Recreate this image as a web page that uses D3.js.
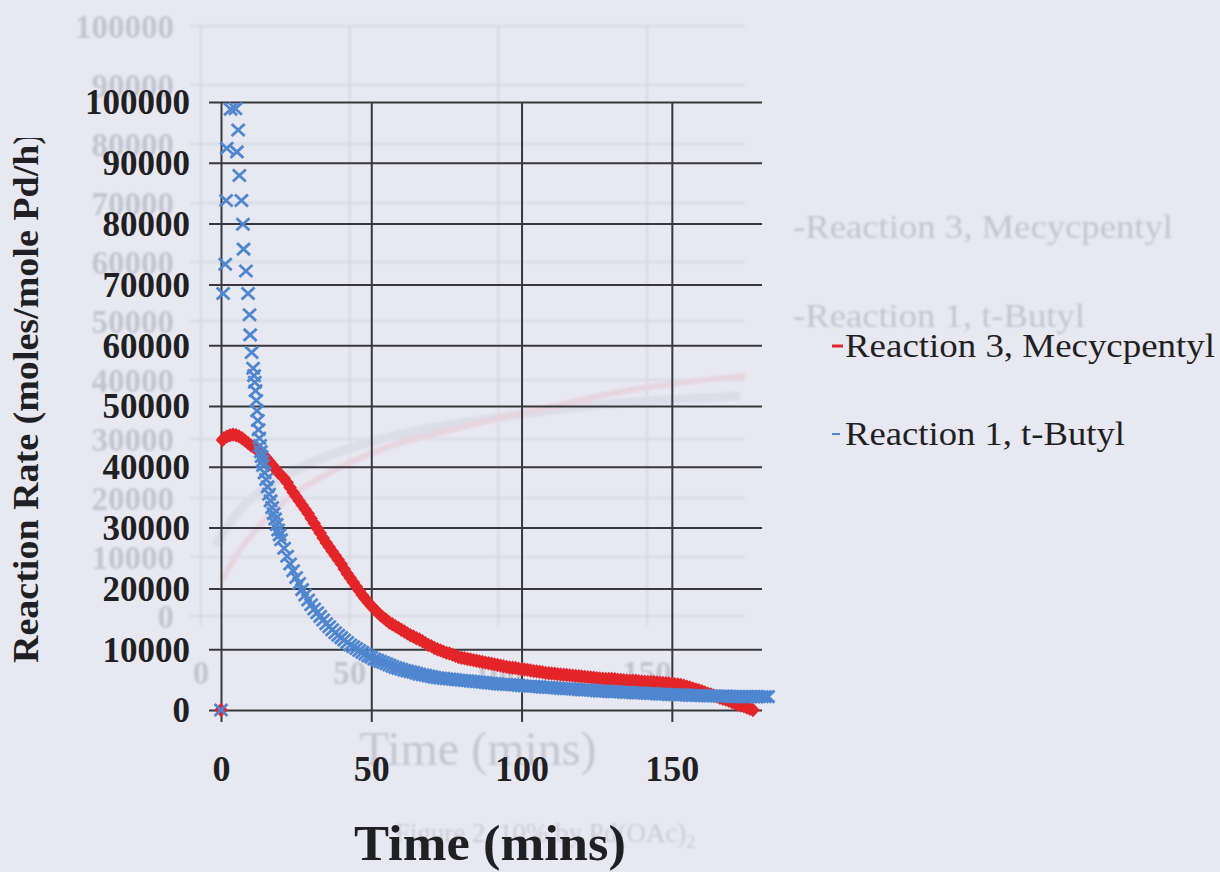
<!DOCTYPE html>
<html>
<head>
<meta charset="utf-8">
<script src="https://cdn.jsdelivr.net/npm/d3@7"></script>
<style>
  html, body { margin: 0; padding: 0; background: #e8e8f2; }
  svg { display: block; }
</style>
</head>
<body>
<svg id="chart" width="1220" height="872"></svg>
<script>
// ---- tick values ----
const xTicks = [0, 50, 100, 150];
const yTicks = [0, 10000, 20000, 30000, 40000, 50000, 60000, 70000, 80000, 90000, 100000];

// ---- series: Reaction 3, Mecycpentyl (time in mins, rate in moles/mole Pd/h) ----
const redTime = [0, 0.5, 1, 2, 3, 4, 5, 6, 7, 8, 9, 10, 11, 12, 13, 14, 15, 16, 17, 18, 19,
  20, 21, 22, 23, 24, 25, 26, 27, 28, 29, 30, 31, 32, 33, 34, 35, 36, 37, 38, 39,
  40, 41, 42, 43, 44, 45, 46, 47, 48, 49, 50, 51, 52, 53, 54, 55, 56, 57, 58, 59,
  60, 61, 62, 63, 64, 65, 66, 67, 68, 69, 70, 71, 72, 73, 74, 75, 76, 77, 78, 79,
  80, 81, 82, 83, 84, 85, 86, 87, 88, 89, 90, 91, 92, 93, 94, 95, 96, 97, 98, 99,
  100, 101, 102, 103, 104, 105, 106, 107, 108, 109, 110, 111, 112, 113, 114, 115, 116, 117, 118, 119,
  120, 121, 122, 123, 124, 125, 126, 127, 128, 129, 130, 131, 132, 133, 134, 135, 136, 137, 138, 139,
  140, 141, 142, 143, 144, 145, 146, 147, 148, 149, 150, 151, 152, 153, 154, 155, 156, 157, 158, 159,
  160, 161, 162, 163, 164, 165, 166, 167, 168, 169, 170, 171, 172, 173, 174, 175, 176, 177];
const redRate = [0, 44400, 44700, 45000, 45200, 45300, 45200, 45000, 44700, 44300, 43900, 43500, 43200, 42800, 42400, 42000, 41500, 40900, 40300, 39700, 39100,
  38600, 38100, 37400, 36600, 35800, 35100, 34400, 33700, 33000, 32300, 31500, 30700, 29900, 29100, 28300, 27500, 26800, 26100, 25400, 24700,
  24000, 23200, 22400, 21700, 21000, 20300, 19600, 18900, 18300, 17700, 17100, 16600, 16100, 15600, 15200, 14800, 14400, 14100, 13800, 13500,
  13200, 12900, 12600, 12300, 12100, 11800, 11600, 11300, 11000, 10700, 10500, 10200, 10000, 9800, 9600, 9400, 9300, 9100, 8900, 8700,
  8600, 8500, 8400, 8300, 8200, 8100, 8000, 7900, 7800, 7700, 7600, 7500, 7400, 7300, 7200, 7100, 7000, 6950, 6900, 6800,
  6700, 6650, 6600, 6500, 6400, 6350, 6300, 6200, 6100, 6050, 6000, 5950, 5900, 5850, 5800, 5750, 5700, 5650, 5600, 5550,
  5500, 5450, 5400, 5350, 5300, 5250, 5200, 5150, 5100, 5100, 5100, 5050, 5000, 4950, 4900, 4850, 4800, 4800, 4800, 4750,
  4700, 4650, 4600, 4600, 4600, 4550, 4500, 4450, 4400, 4350, 4300, 4250, 4200, 4100, 4000, 3850, 3700, 3550, 3400, 3250,
  3100, 2900, 2700, 2550, 2400, 2200, 2000, 1850, 1700, 1500, 1300, 1100, 900, 750, 600, 400, 200, 0];

// ---- series: Reaction 1, t-Butyl ----
const blueTime = [0, 0.7, 1.4, 1.7, 1.9, 3.2, 4.8, 5.3, 5.7, 6.1, 6.8, 7.3, 7.5, 8.3, 9.0, 9.5, 9.7, 10.2, 10.7,
  11, 11.25, 11.5, 11.75, 12, 12.25, 12.5, 12.75, 13, 13.25, 13.5, 13.75, 14, 14.5, 15, 15.5, 16, 16.5, 17, 17.5, 18, 18.5, 19, 19.5,
  20, 21, 22, 23, 24, 25, 26, 27, 28, 29, 30, 31, 32, 33, 34, 35, 36, 37, 38, 39,
  40, 41, 42, 43, 44, 45, 46, 47, 48, 49, 50, 51, 52, 53, 54, 55, 56, 57, 58, 59,
  60, 61, 62, 63, 64, 65, 66, 67, 68, 69, 70, 71, 72, 73, 74, 75, 76, 77, 78, 79,
  80, 81, 82, 83, 84, 85, 86, 87, 88, 89, 90, 91, 92, 93, 94, 95, 96, 97, 98, 99,
  100, 101, 102, 103, 104, 105, 106, 107, 108, 109, 110, 111, 112, 113, 114, 115, 116, 117, 118, 119,
  120, 121, 122, 123, 124, 125, 126, 127, 128, 129, 130, 131, 132, 133, 134, 135, 136, 137, 138, 139,
  140, 141, 142, 143, 144, 145, 146, 147, 148, 149, 150, 151, 152, 153, 154, 155, 156, 157, 158, 159,
  160, 161, 162, 163, 164, 165, 166, 167, 168, 169, 170, 171, 172, 173, 174, 175, 176, 177, 178, 179,
  180, 181, 182];
const blueRate = [0, 68500, 73300, 83800, 92400, 98800, 98900, 91800, 95400, 87900, 83800, 79900, 75800, 72200, 68500, 65000, 61700, 58800, 56200,
  55000, 53900, 52500, 50900, 49200, 47600, 46100, 44700, 43500, 42500, 41700, 40900, 40200, 39000, 37900, 36700, 35500, 34400, 33300, 32300, 31400, 30500, 29600, 28800,
  28000, 26600, 25300, 24000, 22900, 21800, 20800, 19800, 18900, 18100, 17300, 16600, 16000, 15400, 14800, 14200, 13700, 13200, 12700, 12300,
  11900, 11500, 11100, 10700, 10400, 10100, 9800, 9500, 9200, 8900, 8700, 8400, 8200, 8000, 7800, 7600, 7400, 7200, 7000, 6850,
  6700, 6550, 6400, 6300, 6200, 6050, 5900, 5800, 5700, 5600, 5500, 5400, 5300, 5250, 5200, 5150, 5100, 5050, 5000, 4950,
  4900, 4850, 4800, 4750, 4700, 4650, 4600, 4550, 4500, 4450, 4400, 4350, 4300, 4250, 4200, 4200, 4200, 4150, 4100, 4050,
  4000, 3950, 3900, 3900, 3900, 3850, 3800, 3750, 3700, 3700, 3700, 3650, 3600, 3550, 3500, 3500, 3500, 3450, 3400, 3350,
  3300, 3300, 3300, 3250, 3200, 3150, 3100, 3100, 3100, 3050, 3000, 3000, 3000, 2950, 2900, 2900, 2900, 2850, 2800, 2800,
  2800, 2750, 2700, 2700, 2700, 2650, 2600, 2600, 2600, 2550, 2500, 2500, 2500, 2500, 2500, 2450, 2400, 2400, 2400, 2400,
  2400, 2350, 2300, 2300, 2300, 2300, 2300, 2300, 2300, 2250, 2200, 2200, 2200, 2200, 2200, 2200, 2200, 2200, 2200, 2200,
  2200, 2200, 2200];

const seriesNames = ["Reaction 3, Mecycpentyl", "Reaction 1, t-Butyl"];
const seriesColors = ["#e3252a", "#4f86cf"];
const xTitle = "Time (mins)";
const yTitle = "Reaction Rate (moles/mole Pd/h)";

// ---- faint show-through of the chart printed on the reverse of the sheet ----
const ghostRedTime = [7.1, 13.1, 19.8, 29.9, 40, 53.5, 66.9, 83.8, 100.6, 120.8, 140.9, 161.1, 183];
const ghostRedRate = [6100, 11200, 15400, 20200, 23400, 26800, 29300, 31500, 33600, 35800, 38000, 39500, 40700];
const ghostBlueTime = [4.7, 13.1, 23.2, 36.7, 53.5, 73.7, 93.8, 114, 134.2, 154.4, 181.3];
const ghostBlueRate = [12000, 18000, 22200, 25900, 29000, 31500, 33200, 34600, 35800, 36600, 37300];
const ghostLegend = ["-Reaction 3, Mecycpentyl", "-Reaction 1, t-Butyl"];
const ghostCaption = "Figure 2. 10% by Pd(OAc)";

const serif = '"Liberation Serif", "Times New Roman", serif';
const ink = "#1f1f24";
const gridInk = "#38383c";

const svg = d3.select("#chart");
svg.append("rect").attr("width", 1220).attr("height", 872).attr("fill", "#e8e8f2");

const defs = svg.append("defs");
defs.append("filter").attr("id", "soft")
  .append("feGaussianBlur").attr("stdDeviation", 1.1);
defs.append("clipPath").attr("id", "ytitle-clip")
  .append("rect").attr("x", 0).attr("y", 138).attr("width", 80).attr("height", 734);

// ================= show-through layer =================
const gx = d3.scaleLinear().domain([0, 150]).range([201, 647]);
const gy = d3.scaleLinear().domain([0, 100000]).range([616, 26]);
const ghost = svg.append("g").attr("filter", "url(#soft)");
const ghostInk = "#c4c4d0";

ghost.append("g").selectAll("line").data(yTicks).join("line")
  .attr("x1", 190).attr("x2", 745)
  .attr("y1", d => gy(d)).attr("y2", d => gy(d))
  .attr("stroke", "#d4d4df").attr("stroke-width", 1.6);
ghost.append("g").selectAll("line").data(xTicks).join("line")
  .attr("x1", d => gx(d)).attr("x2", d => gx(d))
  .attr("y1", gy(100000)).attr("y2", 626)
  .attr("stroke", "#d4d4df").attr("stroke-width", 1.6);
ghost.append("g").selectAll("text").data(yTicks).join("text")
  .attr("x", 174).attr("y", d => gy(d)).attr("dy", "0.35em")
  .attr("text-anchor", "end").attr("font-family", serif).attr("font-weight", "bold")
  .attr("font-size", 33).attr("fill", ghostInk).text(d => d3.format("d")(d));
ghost.append("g").selectAll("text").data(xTicks).join("text")
  .attr("x", d => gx(d)).attr("y", 684)
  .attr("text-anchor", "middle").attr("font-family", serif).attr("font-weight", "bold")
  .attr("font-size", 33).attr("fill", ghostInk).text(d => d);

const gLine = d3.line().curve(d3.curveMonotoneX);
ghost.append("path")
  .attr("d", gLine(ghostBlueTime.map((t, i) => [gx(t), gy(ghostBlueRate[i])])))
  .attr("fill", "none").attr("stroke", "#dcdde9").attr("stroke-width", 9);
ghost.append("path")
  .attr("d", gLine(ghostRedTime.map((t, i) => [gx(t), gy(ghostRedRate[i])])))
  .attr("fill", "none").attr("stroke", "#e6d5df").attr("stroke-width", 6);

ghost.append("text").attr("x", 793).attr("y", 238)
  .attr("font-family", serif).attr("font-size", 34).attr("fill", ghostInk)
  .attr("textLength", 380).attr("lengthAdjust", "spacingAndGlyphs").text(ghostLegend[0]);
ghost.append("text").attr("x", 793).attr("y", 327)
  .attr("font-family", serif).attr("font-size", 34).attr("fill", ghostInk)
  .attr("textLength", 292).attr("lengthAdjust", "spacingAndGlyphs").text(ghostLegend[1]);
ghost.append("text").attr("x", 478).attr("y", 765).attr("text-anchor", "middle")
  .attr("font-family", serif).attr("font-size", 48).attr("fill", "#c6c6d2")
  .text(xTitle);
const cap = ghost.append("text").attr("x", 545).attr("y", 842).attr("text-anchor", "middle")
  .attr("font-family", serif).attr("font-size", 27).attr("fill", "#cbcbd6");
cap.append("tspan").text(ghostCaption);
cap.append("tspan").attr("dy", 6).attr("font-size", 18).text("2");

// ================= main chart =================
const x = d3.scaleLinear().domain([0, 180]).range([221, 762]);
const y = d3.scaleLinear().domain([0, 100000]).range([710, 102]);

// horizontal gridlines with left tick stubs and value labels
const yAxis = d3.axisLeft(y).tickValues(yTicks)
  .tickSize(-(762 - 209)).tickPadding(19).tickFormat(d3.format("d"));
const gAxisY = svg.append("g").attr("transform", "translate(209,0)").call(yAxis);
gAxisY.select(".domain").remove();
gAxisY.selectAll(".tick line").attr("stroke", gridInk).attr("stroke-width", 2);
gAxisY.selectAll(".tick text")
  .attr("font-family", serif).attr("font-size", 35).attr("font-weight", "bold")
  .attr("fill", ink).attr("dy", "0.34em");

// vertical gridlines with bottom tick stubs and time labels
const xAxis = d3.axisBottom(x).tickValues(xTicks)
  .tickSize(-(722 - 102)).tickPadding(33).tickFormat(d3.format("d"));
const gAxisX = svg.append("g").attr("transform", "translate(0,722)").call(xAxis);
gAxisX.select(".domain").remove();
gAxisX.selectAll(".tick line").attr("stroke", gridInk).attr("stroke-width", 2);
gAxisX.selectAll(".tick text")
  .attr("font-family", serif).attr("font-size", 36).attr("font-weight", "bold")
  .attr("fill", ink);

// Reaction 3: diamond markers
const redPts = redTime.map((t, i) => ({ t, v: redRate[i] }));
svg.append("g").selectAll("path").data(redPts).join("path")
  .attr("transform", d => `translate(${x(d.t)},${y(d.v)})`)
  .attr("d", "M0,-7.2L6.8,0L0,7.2L-6.8,0Z")
  .attr("fill", seriesColors[0]);

// Reaction 1: cross markers
const bluePts = blueTime.map((t, i) => ({ t, v: blueRate[i] }));
svg.append("g").selectAll("path").data(bluePts).join("path")
  .attr("transform", d => `translate(${x(d.t)},${y(d.v)})`)
  .attr("d", "M-6.5,-6L6.5,6M-6.5,6L6.5,-6")
  .attr("fill", "none").attr("stroke", seriesColors[1]).attr("stroke-width", 2.8);

// legend
const legendRows = [
  { name: seriesNames[0], color: seriesColors[0], y: 357, len: 370, dashW: 11, dashH: 3 },
  { name: seriesNames[1], color: seriesColors[1], y: 445, len: 280, dashW: 8, dashH: 2 }
];
const legend = svg.append("g");
legend.selectAll("rect").data(legendRows).join("rect")
  .attr("x", 832).attr("y", d => d.y - 11 - d.dashH / 2)
  .attr("width", d => d.dashW).attr("height", d => d.dashH)
  .attr("fill", d => d.color);
legend.selectAll("text").data(legendRows).join("text")
  .attr("x", 845).attr("y", d => d.y)
  .attr("font-family", serif).attr("font-size", 34).attr("fill", ink)
  .attr("textLength", d => d.len).attr("lengthAdjust", "spacingAndGlyphs")
  .text(d => d.name);

// axis titles
svg.append("text")
  .attr("x", 490).attr("y", 860).attr("text-anchor", "middle")
  .attr("font-family", serif).attr("font-size", 50).attr("font-weight", "bold")
  .attr("fill", ink).attr("textLength", 272).attr("lengthAdjust", "spacingAndGlyphs")
  .text(xTitle);

svg.append("g").attr("clip-path", "url(#ytitle-clip)")
  .append("text")
  .attr("transform", "translate(38,663) rotate(-90)")
  .attr("font-family", serif).attr("font-size", 35).attr("font-weight", "bold")
  .attr("fill", ink).attr("textLength", 531).attr("lengthAdjust", "spacingAndGlyphs")
  .text(yTitle);
</script>
</body>
</html>
